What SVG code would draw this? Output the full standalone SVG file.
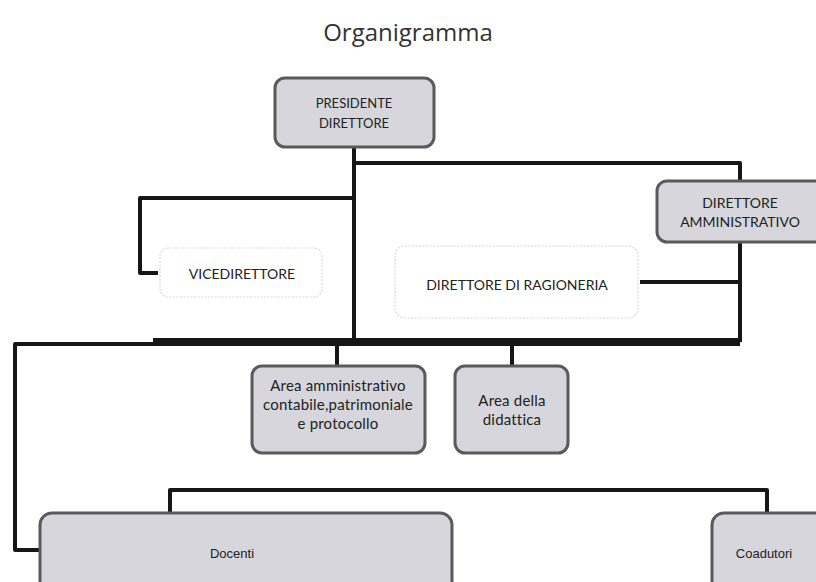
<svg xmlns="http://www.w3.org/2000/svg" width="816" height="582" viewBox="0 0 816 582">
<style>
.box{fill:#d6d6dc;stroke:#5a5a5a;stroke-width:3}
.ghost{fill:#ffffff;stroke:#d8d8d8;stroke-width:1.2;stroke-dasharray:2 1.5}
.t{font-family:Lato,"Open Sans","Liberation Sans",sans-serif;font-size:13px;fill:#222;text-anchor:middle;dominant-baseline:central}
.m{font-size:14px}
.ar{font-size:15px;letter-spacing:0.2px}
.a{font-family:"Liberation Sans",Arial,sans-serif;font-size:13px;fill:#222;text-anchor:middle;dominant-baseline:central}
.ln{fill:none;stroke:#161616;stroke-width:4;stroke-linejoin:round}
</style>
<rect width="816" height="582" fill="#ffffff"/>
<text x="408" y="31" font-family="'Open Sans','Noto Sans',sans-serif" font-size="24" fill="#333" text-anchor="middle" dominant-baseline="central">Organigramma</text>
<g id="connectors">
<path class="ln" d="M354 148V343"/>
<path class="ln" d="M354 163H740V342"/>
<path class="ln" d="M354 198H140V273H158"/>
<path class="ln" d="M640 282H740"/>
<path d="M153 342H740" stroke="#161616" stroke-width="8" fill="none"/>
<path class="ln" d="M155 344H15V550H40"/>
<path class="ln" d="M337 344V366"/>
<path class="ln" d="M512 344V366"/>
<path class="ln" d="M170 513V490H767V513"/>
</g>
<g id="presidente">
<rect class="box" x="275" y="78" width="159" height="69" rx="10"/>
<text class="t" x="354" y="103">PRESIDENTE</text>
<text class="t" x="354" y="123">DIRETTORE</text>
</g>
<g id="direttore-amministrativo">
<rect class="box" x="657" y="181" width="170" height="61" rx="10"/>
<text class="t m" x="740" y="202">DIRETTORE</text>
<text class="t m" x="740" y="221">AMMINISTRATIVO</text>
</g>
<g id="vicedirettore">
<rect class="ghost" x="160" y="248" width="162" height="49" rx="8"/>
<text class="t m" x="242" y="273">VICEDIRETTORE</text>
</g>
<g id="direttore-ragioneria">
<rect class="ghost" x="395" y="246" width="243" height="72" rx="10"/>
<text class="t m" x="517" y="284">DIRETTORE DI RAGIONERIA</text>
</g>
<g id="area-amministrativo">
<rect class="box" x="252" y="366" width="173" height="87" rx="10"/>
<text class="t ar" x="338" y="385">Area amministrativo</text>
<text class="t ar" x="338" y="404">contabile,patrimoniale</text>
<text class="t ar" x="338" y="423">e protocollo</text>
</g>
<g id="area-didattica">
<rect class="box" x="455" y="366" width="113" height="87" rx="10"/>
<text class="t ar" x="512" y="400">Area della</text>
<text class="t ar" x="512" y="419">didattica</text>
</g>
<g id="docenti">
<rect class="box" x="40" y="513" width="412" height="80" rx="12"/>
<text class="a" x="232" y="553">Docenti</text>
</g>
<g id="coadutori">
<rect class="box" x="712" y="513" width="120" height="80" rx="12"/>
<text class="a" x="764" y="553">Coadutori</text>
</g>
</svg>
